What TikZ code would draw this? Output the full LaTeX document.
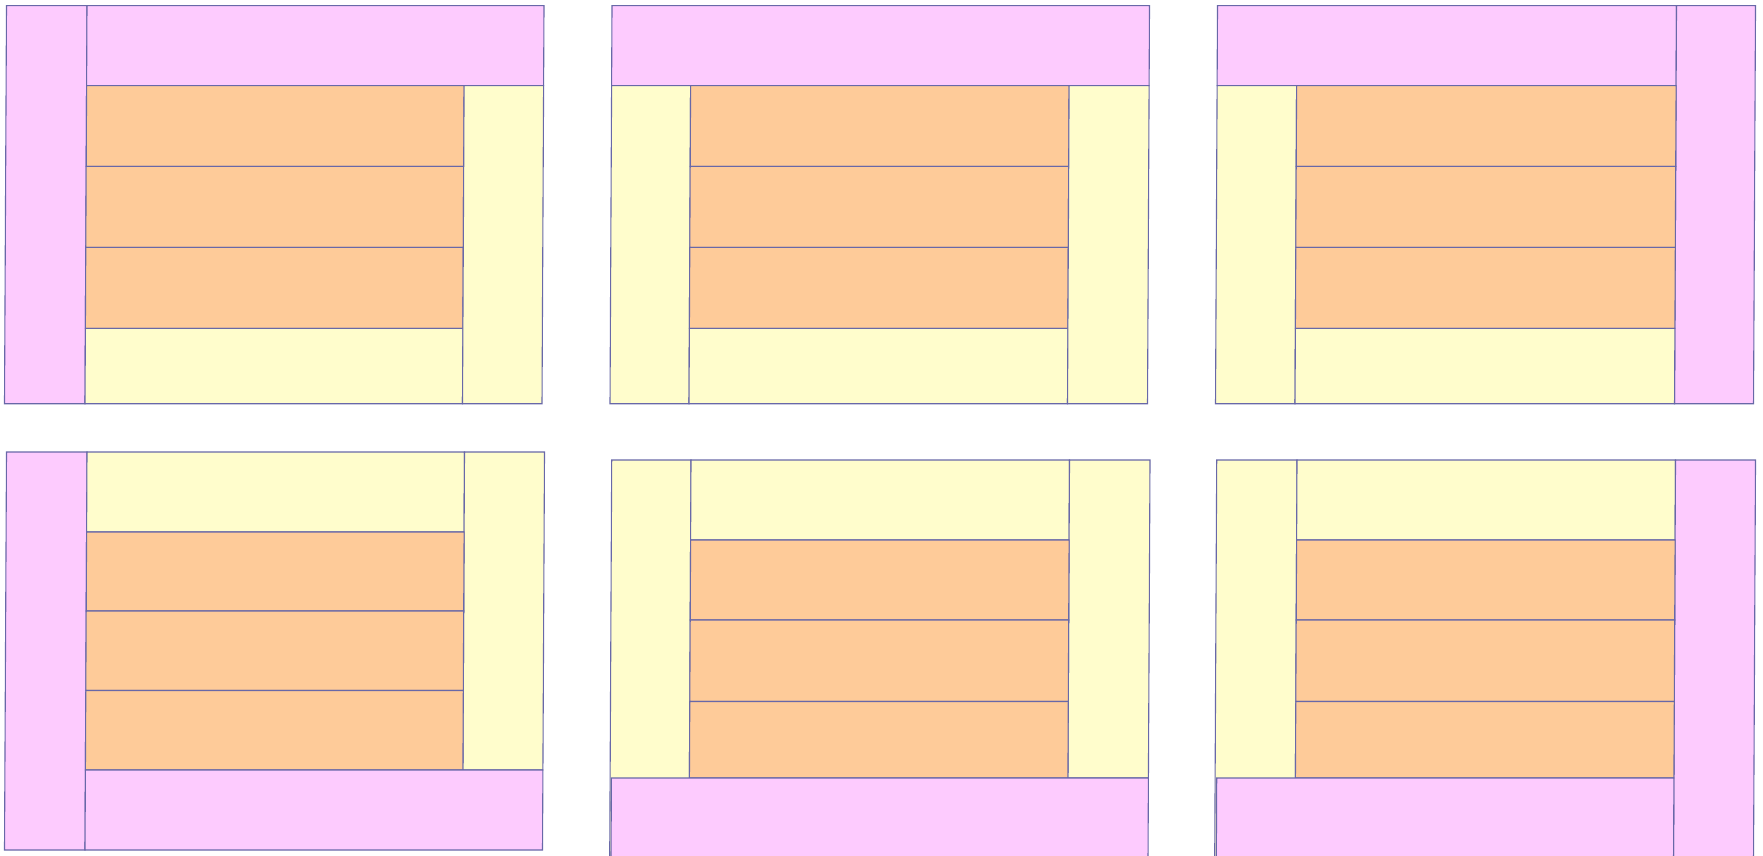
\documentclass[tikz,border=0pt]{standalone}
\definecolor{pk}{RGB}{253,203,254}
\definecolor{og}{RGB}{254,203,153}
\definecolor{yl}{RGB}{255,253,204}
\definecolor{ln}{RGB}{104,104,168}
\tikzset{
  box/.style={draw=ln, line width=1.1pt},
  pinkbox/.style={box, fill=pk},
  orangebox/.style={box, fill=og},
  yellowbox/.style={box, fill=yl},
  panel/.style={shift={(0,#1)}, xslant=0.005, shift={(0,-#1)}}
}
\begin{document}
\begin{tikzpicture}[x=1pt,y=-1pt]
\clip (0,0) rectangle (1763,856);
% ---------- top-left ----------
\begin{scope}[panel=5.7]
\path[pinkbox] (6.5,5.7) rectangle (87,403.7);
\path[pinkbox] (87,5.7) rectangle (544,85.7);
\path[orangebox] (87,85.7) rectangle (464.5,166.4);
\path[orangebox] (87,166.4) rectangle (464.5,247.4);
\path[orangebox] (87,247.4) rectangle (464.5,328.3);
\path[yellowbox] (87,328.3) rectangle (464.5,403.7);
\path[yellowbox] (464.5,85.7) rectangle (544,403.7);
\end{scope}
% ---------- top-middle ----------
\begin{scope}[panel=5.7]
\path[pinkbox] (612,5.7) rectangle (1149.5,85.7);
\path[yellowbox] (612,85.7) rectangle (691,403.7);
\path[orangebox] (691,85.7) rectangle (1069.5,166.4);
\path[orangebox] (691,166.4) rectangle (1069.5,247.4);
\path[orangebox] (691,247.4) rectangle (1069.5,328.3);
\path[yellowbox] (691,328.3) rectangle (1069.5,403.7);
\path[yellowbox] (1069.5,85.7) rectangle (1149.5,403.7);
\end{scope}
% ---------- top-right ----------
\begin{scope}[panel=5.7]
\path[pinkbox] (1217.5,5.7) rectangle (1676.5,85.7);
\path[pinkbox] (1676.5,5.7) rectangle (1755.5,403.7);
\path[yellowbox] (1217.5,85.7) rectangle (1297,403.7);
\path[orangebox] (1297,85.7) rectangle (1676.5,166.4);
\path[orangebox] (1297,166.4) rectangle (1676.5,247.4);
\path[orangebox] (1297,247.4) rectangle (1676.5,328.3);
\path[yellowbox] (1297,328.3) rectangle (1676.5,403.7);
\end{scope}
% ---------- bottom-left ----------
\begin{scope}[panel=452]
\path[pinkbox] (6.5,452) rectangle (87,850);
\path[yellowbox] (87,452) rectangle (464.5,532);
\path[yellowbox] (464.5,452) rectangle (544.5,770);
\path[orangebox] (87,532) rectangle (464.5,611);
\path[orangebox] (87,611) rectangle (464.5,690.5);
\path[orangebox] (87,690.5) rectangle (464.5,770);
\path[pinkbox] (87,770) rectangle (544.5,850);
\end{scope}
% ---------- bottom-middle ----------
\begin{scope}[panel=460]
\path[yellowbox] (611.7,460) rectangle (691,900);
\path[yellowbox] (691,460) rectangle (1069.5,540);
\path[yellowbox] (1069.5,460) rectangle (1150,778);
\path[orangebox] (691,540) rectangle (1069.5,620);
\path[orangebox] (691,620) rectangle (1069.5,701.5);
\path[orangebox] (691,701.5) rectangle (1069.5,778);
\path[pinkbox] (613,778) rectangle (1150,900);
\end{scope}
% ---------- bottom-right ----------
\begin{scope}[panel=460]
\path[yellowbox] (1216.7,460) rectangle (1297,900);
\path[yellowbox] (1297,460) rectangle (1675.5,540);
\path[pinkbox] (1675.5,460) rectangle (1755.5,900);
\path[orangebox] (1297,540) rectangle (1675.5,620);
\path[orangebox] (1297,620) rectangle (1675.5,701.5);
\path[orangebox] (1297,701.5) rectangle (1675.5,778);
\path[pinkbox] (1218.3,778) rectangle (1675.5,900);
\end{scope}
\end{tikzpicture}
\end{document}
